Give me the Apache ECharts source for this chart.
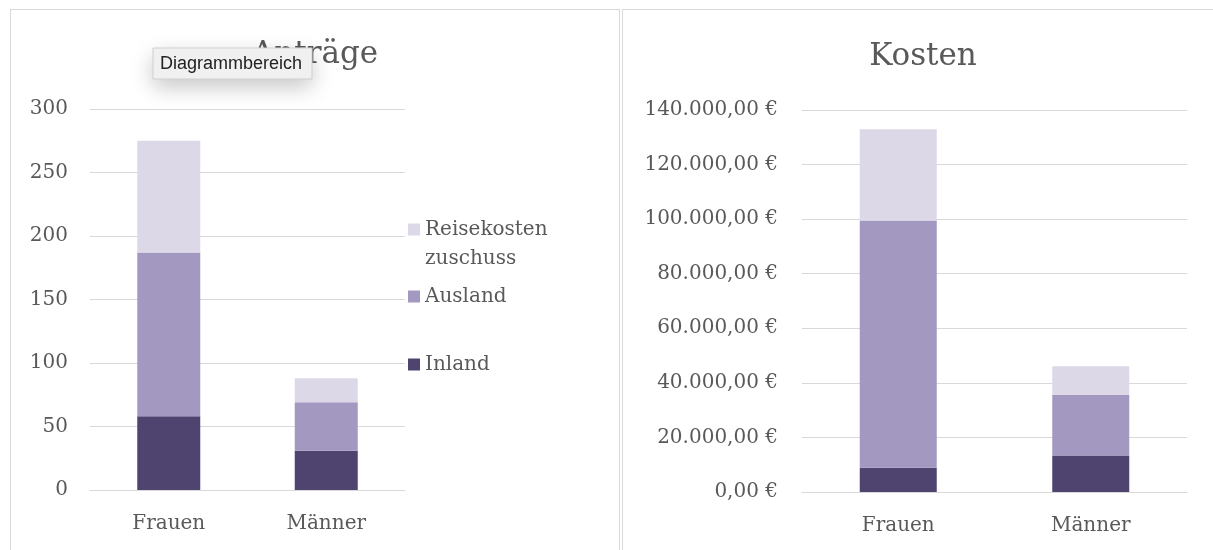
<!DOCTYPE html>
<html>
<head>
<meta charset="utf-8">
<script src="https://cdn.jsdelivr.net/npm/echarts@6/dist/echarts.min.js"></script>
<style>
html, body { margin:0; padding:0; background:#fff; overflow:hidden; width:1213px; height:550px; }
.panel { position:absolute; top:9px; height:560px; border:1px solid #d9d9d9; box-sizing:border-box; background:#fff; }
#left { left:10px; width:610px; }
#right { left:622px; width:602px; }
</style>
</head>
<body>
<div id="left" class="panel"></div>
<div id="right" class="panel"></div>
<script>
var categories = ['Frauen', 'Männer'];
var seriesNames = ['Inland', 'Ausland', 'Reisekosten zuschuss'];
// Anträge (Anzahl)
var antraegeInland = [58, 31];
var antraegeAusland = [129, 38];
var antraegeReise = [88, 19];
// Kosten (Euro)
var kostenInland = [8900, 13400];
var kostenAusland = [90600, 22200];
var kostenReise = [33400, 10500];
var antraegeTicks = { min: 0, max: 300, interval: 50 };
var kostenTicks = { min: 0, max: 140000, interval: 20000 };

var colors = ['#4f4470', '#a398bf', '#dcd8e8'];
var textGray = '#595959';
var serif = 'DejaVu Serif';

function euro(v) {
	var parts = Number(v).toFixed(2).split('.');
	var ganz = parts[0].replace(/\B(?=(\d{3})+(?!\d))/g, '.');
	return ganz + ',' + parts[1] + ' €';
}

function makeSeries(lists) {
	var out = [];
	for (var i = 0; i < lists.length; i++) {
		out.push({
			name : seriesNames[i],
			type : 'bar',
			stack : 'total',
			barWidth : '40%',
			itemStyle : { color : colors[i] },
			data : lists[i]
		});
	}
	return out;
}

function baseOption(title, titleTop, grid, ticks, fmt, lists) {
	return {
		animation : false,
		color : colors,
		title : {
			text : title,
			left : 'center',
			top : titleTop,
			padding : 0,
			z : 1,
			textStyle : { fontFamily : serif, fontSize : 31, fontWeight : 'normal', color : textGray }
		},
		grid : grid,
		xAxis : {
			type : 'category',
			data : categories,
			axisLine : { lineStyle : { color : '#d9d9d9' } },
			axisTick : { show : false },
			axisLabel : { margin : 24, fontFamily : serif, fontSize : 20, color : textGray }
		},
		yAxis : {
			type : 'value',
			min : ticks.min,
			max : ticks.max,
			interval : ticks.interval,
			axisLine : { show : false },
			axisTick : { show : false },
			splitLine : { lineStyle : { color : '#d9d9d9' } },
			axisLabel : { margin : fmt ? 24 : 22, fontFamily : serif, fontSize : 20, color : textGray, formatter : fmt }
		},
		series : makeSeries(lists)
	};
}

var legendText = { fontFamily : serif, fontSize : 20, color : textGray, lineHeight : 29 };
function legendAt(name, top, fmt) {
	var lg = {
		orient : 'vertical',
		left : 397,
		top : top,
		padding : 0,
		itemWidth : 12,
		itemHeight : 12,
		itemGap : 6,
		icon : 'rect',
		data : [name],
		textStyle : legendText
	};
	if (fmt) lg.formatter = fmt;
	return lg;
}

var leftChart = echarts.init(document.getElementById('left'));
var leftOption = baseOption('Anträge', 29, { left : 79, right : 214, top : 99, bottom : 78 }, antraegeTicks, null,
		[antraegeInland, antraegeAusland, antraegeReise]);
// leere erste Zeile, damit "Reisekosten" auf Höhe des Symbols steht
leftOption.legend = [
	legendAt('Reisekosten zuschuss', 176, function () { return '\nReisekosten\nzuschuss'; }),
	legendAt('Ausland', 272),
	legendAt('Inland', 340)
];
leftOption.graphic = [{
	type : 'rect',
	z : 100,
	shape : { x : 142, y : 38, width : 159, height : 31 },
	style : { fill : '#f2f2f2', stroke : '#cfcfcf', lineWidth : 1,
		shadowBlur : 22, shadowColor : 'rgba(0,0,0,0.22)', shadowOffsetY : 8 }
}, {
	type : 'text',
	z : 101,
	x : 149, y : 54,
	style : { text : 'Diagrammbereich', fill : '#222', font : '18px "Liberation Sans"', verticalAlign : 'middle' }
}];
leftChart.setOption(leftOption);

var rightChart = echarts.init(document.getElementById('right'));
rightChart.setOption(baseOption('Kosten', 31, { left : 179, right : 36, top : 100, bottom : 76 }, kostenTicks, euro,
		[kostenInland, kostenAusland, kostenReise]));
</script>
</body>
</html>
